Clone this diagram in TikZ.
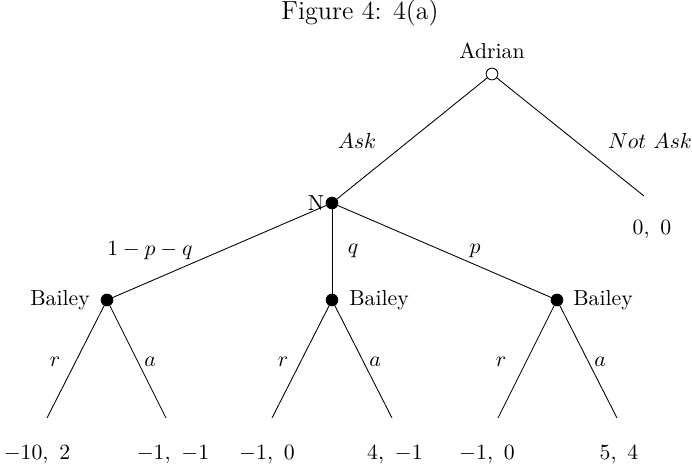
\documentclass[tikz,border=0pt]{standalone}
\usepackage{tikz}
\usetikzlibrary{positioning}

\begin{document}
\begin{tikzpicture}[
    x=0.46pt, y=-0.46pt,
    opennode/.style={draw, circle, fill=white, inner sep=0pt, minimum size=5.4pt},
    chancenode/.style={draw, circle, fill=black, inner sep=0pt, minimum size=5.4pt},
    lbl/.style={inner sep=1pt, font=\normalsize},
    payoff/.style={inner sep=1pt},
    edge/.style={thin},
]
\useasboundingbox (0,0) rectangle (692,468);
% ---- title ----
\node[font=\large] (title) at (360, 13) {Figure 4: 4(a)};

% ---- decision nodes ----
\node[opennode]   (adrian) at (492, 74)  {};
\node[chancenode] (nat)    at (332, 203) {};
\node[chancenode] (bl)     at (107, 300) {};
\node[chancenode] (bm)     at (332, 300) {};
\node[chancenode] (br)     at (557, 300) {};

% ---- leaf ends ----
\coordinate (notask) at (644, 196);
\coordinate (l1) at (47, 418);
\coordinate (l2) at (166, 418);
\coordinate (l3) at (272, 418);
\coordinate (l4) at (392, 418);
\coordinate (l5) at (498, 418);
\coordinate (l6) at (617, 418);

% ---- player labels ----
\node[lbl] (adrianlbl) at (492, 51)  {Adrian};
\node[lbl] (natlbl)    at (316, 203) {N};
\node[lbl] (bllbl)     at (60, 300)  {Bailey};
\node[lbl] (bmlbl)     at (379, 300) {Bailey};
\node[lbl] (brlbl)     at (603, 300) {Bailey};

% ---- edges ----
\draw[edge] (adrian) -- (nat);
\draw[edge] (adrian) -- (notask);
\draw[edge] (nat) -- (bl);
\draw[edge] (nat) -- (bm);
\draw[edge] (nat) -- (br);
\draw[edge] (bl) -- (l1);
\draw[edge] (bl) -- (l2);
\draw[edge] (bm) -- (l3);
\draw[edge] (bm) -- (l4);
\draw[edge] (br) -- (l5);
\draw[edge] (br) -- (l6);

% ---- action labels ----
\node[lbl] (ask)    at (357, 141) {$Ask$};
\node[lbl] (notasklbl) at (650, 141) {$Not\ Ask$};
\node[lbl] (pqlbl)  at (150, 251) {$1-p-q$};
\node[lbl] (qlbl)   at (353, 251) {$q$};
\node[lbl] (plbl)   at (475, 251) {$p$};
\node[lbl] (r1) at (55, 362)  {$r$};
\node[lbl] (a1) at (150, 362) {$a$};
\node[lbl] (r2) at (283, 362) {$r$};
\node[lbl] (a2) at (375, 362) {$a$};
\node[lbl] (r3) at (501, 362) {$r$};
\node[lbl] (a3) at (600, 362) {$a$};

% ---- payoffs ----
\node[payoff] (p0) at (652, 230) {$0,\ 0$};
\node[payoff] (p1) at (37, 455)  {$-10,\ 2$};
\node[payoff] (p2) at (173, 455) {$-1,\ -1$};
\node[payoff] (p3) at (267, 455) {$-1,\ 0$};
\node[payoff] (p4) at (395, 455) {$4,\ -1$};
\node[payoff] (p5) at (487, 455) {$-1,\ 0$};
\node[payoff] (p6) at (619, 455) {$5,\ 4$};
\end{tikzpicture}
\end{document}
